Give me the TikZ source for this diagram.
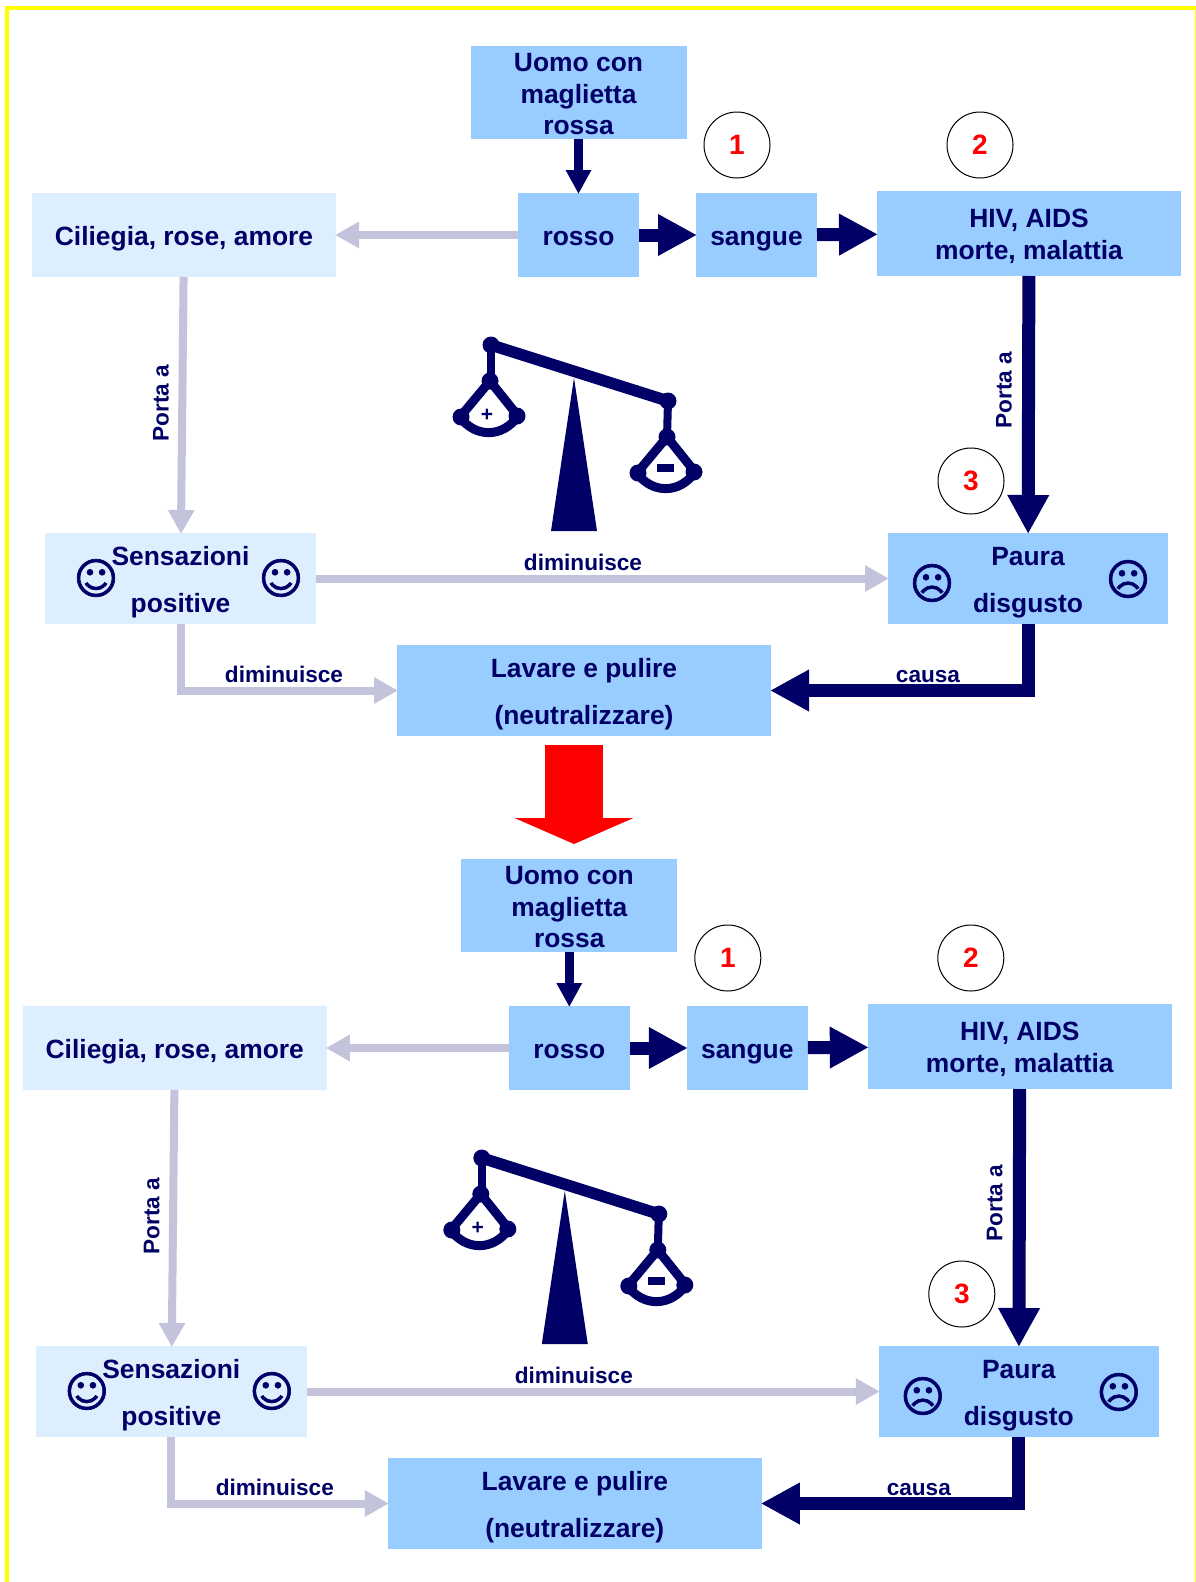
\documentclass[tikz,border=0pt]{standalone}
\usepackage{fontspec}
\setmainfont{Liberation Sans}
\newfontfamily\symbolfont[FakeBold=1.5]{DejaVu Sans}
\usetikzlibrary{positioning,arrows.meta}
\definecolor{navycolor}{HTML}{000066}
\definecolor{softcolor}{HTML}{C3C3DC}
\definecolor{darkbox}{HTML}{99CCFF}
\definecolor{lightbox}{HTML}{DDEEFF}
\definecolor{framecolor}{HTML}{FFFF00}

% one pan of the balance, hung at (#1,#2)
\newcommand{\panFmt}[2]{
	\begin{scope}[shift={(#1,#2)}]
		\draw[beamline, line width=9pt] (-30,36) -- (0,0) -- (28,35) .. controls (13,57) and (-15,57) .. (-30,36);
		\fill[navycolor] (0,0) circle (8.5) (-29,36) circle (8.5) (27,35) circle (8.5);
	\end{scope}
}

% one whole chart, #1 is the suffix of its node names
\newcommand{\chartFmt}[1]{
	\node[darkfill, minimum width=121pt] (rosso#1) at (578.5,235) {rosso};
	\node[darkfill, three lines, minimum width=216pt, minimum height=93pt] (uomo#1) [above=54pt of rosso#1] {Uomo con\\maglietta\\rossa};
	\node[darkfill, minimum width=121pt] (sangue#1) [right=57pt of rosso#1] {sangue};
	\node[darkfill, two lines, minimum width=304pt, minimum height=85pt] (hiv#1) [right=60pt of sangue#1, yshift=1.5pt] {HIV, AIDS\\morte, malattia};
	\node[lightfill, minimum width=304pt] (ciliegia#1) [left=182pt of rosso#1] {Ciliegia, rose, amore};
	\node[lightfill, wide lines, minimum width=271pt, minimum height=91pt] (sens#1) [below=256pt of ciliegia#1, xshift=-3.5pt] {Sensazioni\\positive};
	\node[darkfill, wide lines, minimum width=280pt, minimum height=91pt] (paura#1) [below=257pt of hiv#1, xshift=-1pt] {Paura\\disgusto};
	\node[darkfill, wide lines, minimum width=374pt, minimum height=91pt] (lavare#1) [below right=21pt and 81pt of sens#1] {Lavare e pulire\\(neutralizzare)};

	\node[numcircle] (uno#1) at (737,145) {1};
	\node[numcircle] (due#1) at (980,145) {2};
	\node[numcircle] (tre#1) at (971,481) {3};

	\node[face] (smileL#1) at (96,578) {☺};
	\node[face] (smileR#1) at (281,578) {☺};
	\node[face] (frownL#1) at (932,583) {☹};
	\node[face] (frownR#1) at (1128,579) {☹};

	\draw[softline] (rosso#1) -- (ciliegia#1);
	\draw[softline] (ciliegia#1) -- (sens#1);
	\draw[softline] (sens#1) -- (paura#1);
	\draw[softline] (sens#1.south) |- (lavare#1);
	\draw[navyline, line width=9pt, -{Triangle[length=24pt,width=24pt]}] (uomo#1) -- (rosso#1);
	\draw[navyline] (rosso#1) -- (sangue#1);
	\draw[navyline] (sangue#1) -- (hiv#1);
	\draw[navyline] (hiv#1) -- (paura#1);
	\draw[navyline] (paura#1.south) |- (lavare#1);

	\node[edgelabel, rotate=90] (portaL#1) at (161,403) {Porta a};
	\node[edgelabel, rotate=90] (portaR#1) at (1004,390) {Porta a};
	\node[edgelabel] (dimTop#1) at (583,562) {diminuisce};
	\node[edgelabel] (dimLow#1) at (284,674) {diminuisce};
	\node[edgelabel] (causa#1) at (928,677) {causa};

	% balance
	\fill[navycolor] (574,378) -- (597,531) -- (551,531) -- cycle;
	\draw[beamline] (491,345) -- (668,401);
	\draw[beamline, line width=8pt] (491,345) -- (491,381);
	\draw[beamline, line width=8pt] (668,401) -- (667,437);
	\fill[navycolor] (491,345) circle (8.5) (668,401) circle (8.5);
	\panFmt{490}{381}
	\panFmt{667}{437}
	\node[edgelabel, font=\bfseries\fontsize{21}{21}\selectfont] (plus#1) at (487,415) {+};
	\node[minimum width=17pt, minimum height=8pt, inner sep=0pt, fill=navycolor] (minus#1) at (665.5,468) {};
}

\begin{document}
\begin{tikzpicture}[x=1pt, y=-1pt,
		box/.style={rectangle, align=center, inner sep=0pt, outer sep=0pt, minimum height=84pt, text=navycolor, text height=26.5pt, text depth=6pt, font=\bfseries\fontsize{26.4}{31.3}\selectfont},
		darkfill/.style={box, fill=darkbox},
		lightfill/.style={box, fill=lightbox},
		two lines/.style={text height=57.5pt},
		three lines/.style={text height=87pt, text depth=3pt},
		wide lines/.style={text height=74pt, font=\bfseries\fontsize{26.4}{47}\selectfont},
		numcircle/.style={circle, draw=black, line width=1pt, fill=white, minimum size=66pt, inner sep=0pt, text=red, font=\bfseries\fontsize{28}{30}\selectfont},
		face/.style={inner sep=0pt, text=navycolor, font=\symbolfont\fontsize{43}{43}\selectfont},
		edgelabel/.style={inner sep=0pt, text=navycolor, font=\bfseries\fontsize{22.6}{27}\selectfont},
		softline/.style={draw=softcolor, line width=8pt, shorten >=-1pt, -{Triangle[length=24pt,width=25pt]}},
		navyline/.style={draw=navycolor, line width=13pt, shorten >=-1pt, -{Triangle[length=39pt,width=39pt]}},
		beamline/.style={draw=navycolor, line width=11.5pt},
	]

	\useasboundingbox (0,0) rectangle (1196,1582);
	\draw[framecolor, line width=4pt] (7,8) rectangle (1197,1620);

	\chartFmt{A}
	\begin{scope}[shift={(-9.2,813)}]
		\chartFmt{B}
	\end{scope}

	\coordinate (redtop) at (574,745);
	\coordinate (redtip) at (574,844);
	\draw[draw=red, line width=58pt, -{Triangle[length=26pt,width=118pt]}] (redtop) -- (redtip);

\end{tikzpicture}
\end{document}
